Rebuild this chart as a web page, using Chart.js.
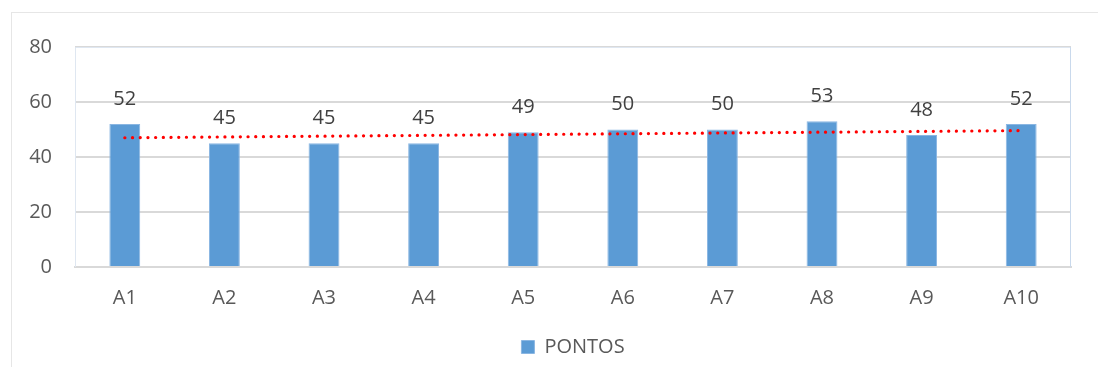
<!DOCTYPE html>
<html>
<head>
<meta charset="utf-8">
<script src="https://cdn.jsdelivr.net/npm/chart.js@4"></script>
<style>
  html, body { margin: 0; padding: 0; background: #fff; }
  #wrap { width: 1098px; height: 367px; }
</style>
</head>
<body>
<div id="wrap"><canvas id="pontosChart" width="1098" height="367"></canvas></div>
<script>
const categories = ['A1', 'A2', 'A3', 'A4', 'A5', 'A6', 'A7', 'A8', 'A9', 'A10'];
const pontos = [52, 45, 45, 45, 49, 50, 50, 53, 48, 52];
// trend line: only its two ends
const trend = [47.0, null, null, null, null, null, null, null, null, 49.6];
const yTicks = [0, 20, 40, 60, 80];

const FONT = "'Open Sans', 'Liberation Sans', sans-serif";

// frame around the whole chart and the plot area, plus value labels
const decor = {
  id: 'decor',
  beforeDraw(chart) {
    const c = chart.ctx;
    c.save();
    c.strokeStyle = '#e6e6e6';
    c.lineWidth = 1;
    c.strokeRect(11.5, 12.5, 1200, 400);
    c.restore();
  },
  afterDatasetsDraw(chart) {
    const c = chart.ctx;
    const a = chart.chartArea;
    c.save();
    c.strokeStyle = '#dfe7f1';
    c.lineWidth = 1;
    c.beginPath();
    c.moveTo(a.left + 0.5, a.bottom);
    c.lineTo(a.left + 0.5, a.top + 0.5);
    c.lineTo(a.right - 0.5, a.top + 0.5);
    c.stroke();
    c.strokeStyle = '#c9d9ec';
    c.beginPath();
    c.moveTo(a.right - 0.5, a.top);
    c.lineTo(a.right - 0.5, a.bottom);
    c.stroke();

    const meta = chart.getDatasetMeta(1);
    c.fillStyle = '#404040';
    c.font = '20px ' + FONT;
    c.textAlign = 'center';
    c.textBaseline = 'middle';
    meta.data.forEach((bar, i) => {
      c.fillText(String(pontos[i]), bar.x, bar.y - 25);
    });
    c.restore();
  }
};

new Chart(document.getElementById('pontosChart'), {
  data: {
    labels: categories,
    datasets: [
      {
        type: 'line',
        label: 'Tendência',
        data: trend,
        spanGaps: true,
        borderColor: '#ff0000',
        borderWidth: 3.2,
        borderDash: [0.1, 7.6],
        borderCapStyle: 'round',
        pointRadius: 0,
        fill: false,
        order: 0
      },
      {
        type: 'bar',
        label: 'PONTOS',
        data: pontos,
        backgroundColor: '#5b9bd5',
        borderColor: '#8ab6e2',
        borderWidth: 1,
        barPercentage: 0.31,
        categoryPercentage: 1,
        order: 1
      }
    ]
  },
  options: {
    responsive: false,
    animation: false,
    layout: { padding: { left: 0, top: 47, right: 27, bottom: 0 } },
    plugins: {
      legend: {
        display: true,
        position: 'bottom',
        fullSize: false,
        labels: {
          filter: item => item.text === 'PONTOS',
          boxWidth: 13,
          boxHeight: 13,
          color: '#595959',
          font: { family: FONT, size: 20 },
          padding: 8
        }
      },
      tooltip: { enabled: false }
    },
    scales: {
      x: {
        grid: { display: false, drawTicks: false },
        border: { color: '#d9d9d9', width: 2 },
        ticks: {
          color: '#595959',
          font: { family: FONT, size: 20 },
          padding: 19
        },
        afterFit(scale) { scale.height = 62; }
      },
      y: {
        min: 0,
        max: 80,
        afterBuildTicks(scale) { scale.ticks = yTicks.map(v => ({ value: v })); },
        grid: { color: '#d9d9d9', lineWidth: 2, drawTicks: false },
        border: { display: false },
        ticks: {
          color: '#595959',
          font: { family: FONT, size: 20 },
          padding: 23
        },
        afterFit(scale) { scale.width = 75; }
      }
    }
  },
  plugins: [decor]
});
</script>
</body>
</html>
